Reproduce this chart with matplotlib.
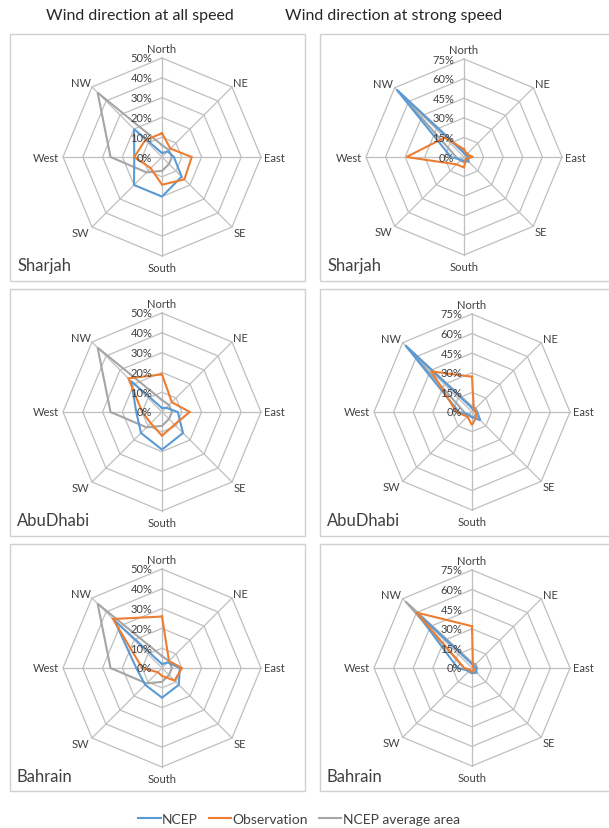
import numpy as np
import matplotlib
matplotlib.use("Agg")
import matplotlib.pyplot as plt
from matplotlib.patches import Rectangle
from matplotlib.lines import Line2D

plt.rcParams['font.family'] = ['Lato', 'DejaVu Sans']

# ---- data ---------------------------------------------------------------
directions = ['North', 'NE', 'East', 'SE', 'South', 'SW', 'West', 'NW']
stations = ['Sharjah', 'AbuDhabi', 'Bahrain']
column_titles = ['Wind direction at all speed', 'Wind direction at strong speed']
series_names = ['NCEP', 'Observation', 'NCEP average area']

# frequency of wind direction (%), order: N, NE, E, SE, S, SW, W, NW
# all speeds
ncep_all_sharjah = [2, 4, 6, 14, 20, 20, 14, 20]
obs_all_sharjah = [12, 6, 15, 16, 14, 8, 14, 12]
ncep_all_abudhabi = [2, 3, 8, 15, 19, 15, 13, 22]
obs_all_abudhabi = [19, 7, 14, 9, 12, 8, 10, 24]
ncep_all_bahrain = [2, 4, 9, 12, 15, 12, 13, 34]
obs_all_bahrain = [26, 5, 10, 9, 4, 3, 10, 35]
area_all = [6, 5, 5, 5, 7, 11, 26, 46]

# strong speeds
ncep_strong_sharjah = [3, 2, 3, 5, 3, 3, 10, 73]
obs_strong_sharjah = [6, 3, 7, 2, 8, 8, 44, 21]
ncep_strong_abudhabi = [3, 2, 4, 9, 4, 3, 10, 72]
obs_strong_abudhabi = [27, 2, 3, 5, 10, 5, 12, 44]
ncep_strong_bahrain = [3, 2, 3, 5, 4, 3, 11, 60]
obs_strong_bahrain = [32, 1, 1, 2, 3, 2, 6, 60]
area_strong = [4, 4, 4, 4, 4, 4, 6, 72]

ticks_all = [0, 10, 20, 30, 40, 50]
ticks_strong = [0, 15, 30, 45, 60, 75]

# ---- style --------------------------------------------------------------
W, H, DPI = 609, 829, 100
C_NCEP = '#5B9BD5'
C_OBS = '#ED7D31'
C_AREA = '#A5A5A5'
C_GRID = '#BFBFBF'
C_TEXT = '#404040'

fig = plt.figure(figsize=(W / DPI, H / DPI), dpi=DPI)
fig.patch.set_facecolor('white')

angles = np.deg2rad(np.arange(len(directions)) * 45.0)


def to_xy(values, vmax):
    r = np.asarray(values, dtype=float) / vmax
    x = r * np.sin(angles)
    y = r * np.cos(angles)
    return np.append(x, x[0]), np.append(y, y[0])


label_style = {
    'North': dict(ha='center', va='bottom', off=(0, 3)),
    'NE': dict(ha='left', va='bottom', off=(1, -1)),
    'East': dict(ha='left', va='center', off=(2, 0)),
    'SE': dict(ha='left', va='top', off=(1, 0)),
    'South': dict(ha='center', va='top', off=(0, -4)),
    'SW': dict(ha='right', va='top', off=(-2, 0)),
    'West': dict(ha='right', va='center', off=(-3, 0)),
    'NW': dict(ha='right', va='bottom', off=(-1, -1)),
}


def radar(cx, cy, radius, ticks, ncep, obs, area):
    S = 135
    ax = fig.add_axes([(cx - S) / W, 1 - (cy + S) / H, 2 * S / W, 2 * S / H])
    lim = S / radius
    ax.set_xlim(-lim, lim)
    ax.set_ylim(-lim, lim)
    ax.set_axis_off()
    vmax = ticks[-1]
    # polygon rings
    for t in ticks[1:]:
        gx, gy = to_xy([t] * len(directions), vmax)
        ax.plot(gx, gy, color=C_GRID, lw=0.9, zorder=1)
    # spokes
    ox, oy = to_xy([vmax] * len(directions), vmax)
    for x, y in zip(ox[:-1], oy[:-1]):
        ax.plot([0, x], [0, y], color=C_GRID, lw=0.9, zorder=1)
    # series
    for vals, col, z in ((area, C_AREA, 2), (ncep, C_NCEP, 3), (obs, C_OBS, 4)):
        sx, sy = to_xy(vals, vmax)
        ax.plot(sx, sy, color=col, lw=1.5, zorder=z, solid_joinstyle='miter')
    # ring value labels
    for t in ticks:
        ax.annotate(f'{t}%', (0, t / vmax), xytext=(-7, 0),
                    textcoords='offset points', ha='right', va='center',
                    fontsize=8, color=C_TEXT, zorder=6)
    # direction labels
    for name, x, y in zip(directions, ox[:-1], oy[:-1]):
        st = label_style[name]
        ax.annotate(name, (x, y), xytext=st['off'], textcoords='offset points',
                    ha=st['ha'], va=st['va'], fontsize=8, color=C_TEXT)
    return ax


# panel frames (pixel boxes: left, top, right, bottom)
row_tops = [35, 290, 545]
box_h = 247
col_lefts = [10, 320]
col_rights = [305, 640]
for top in row_tops:
    for left, right in zip(col_lefts, col_rights):
        fig.patches.append(Rectangle((left / W, 1 - (top + box_h) / H),
                                     (right - left) / W, box_h / H,
                                     transform=fig.transFigure, fill=False,
                                     edgecolor='#D0D0D0', lw=1.0))

all_series = [
    (ncep_all_sharjah, obs_all_sharjah),
    (ncep_all_abudhabi, obs_all_abudhabi),
    (ncep_all_bahrain, obs_all_bahrain),
]
strong_series = [
    (ncep_strong_sharjah, obs_strong_sharjah),
    (ncep_strong_abudhabi, obs_strong_abudhabi),
    (ncep_strong_bahrain, obs_strong_bahrain),
]

centers_y = [158, 413, 669]
centers_x_right = [464, 472, 472]
for i, name in enumerate(stations):
    cy = centers_y[i]
    radar(162, cy, 99, ticks_all, all_series[i][0], all_series[i][1], area_all)
    radar(centers_x_right[i], cy, 98, ticks_strong, strong_series[i][0],
          strong_series[i][1], area_strong)
    for left in col_lefts:
        fig.text((left + 7) / W, 1 - (cy + 108) / H, name, fontsize=12,
                 color=C_TEXT, ha='left', va='center')

fig.text(140 / W, 1 - 16 / H, column_titles[0], fontsize=11.5,
         color='#262626', ha='center', va='center')
fig.text(394 / W, 1 - 16 / H, column_titles[1], fontsize=11.5,
         color='#262626', ha='center', va='center')

handles = [Line2D([], [], color=c, lw=1.5) for c in (C_NCEP, C_OBS, C_AREA)]
fig.legend(handles, series_names, loc='center', ncol=3,
           bbox_to_anchor=(299 / W, 1 - 820 / H), frameon=False,
           fontsize=10, handlelength=1.6, handletextpad=0.1,
           columnspacing=0.8, labelcolor=C_TEXT)

fig.savefig('out.png', dpi=DPI, facecolor='white')
